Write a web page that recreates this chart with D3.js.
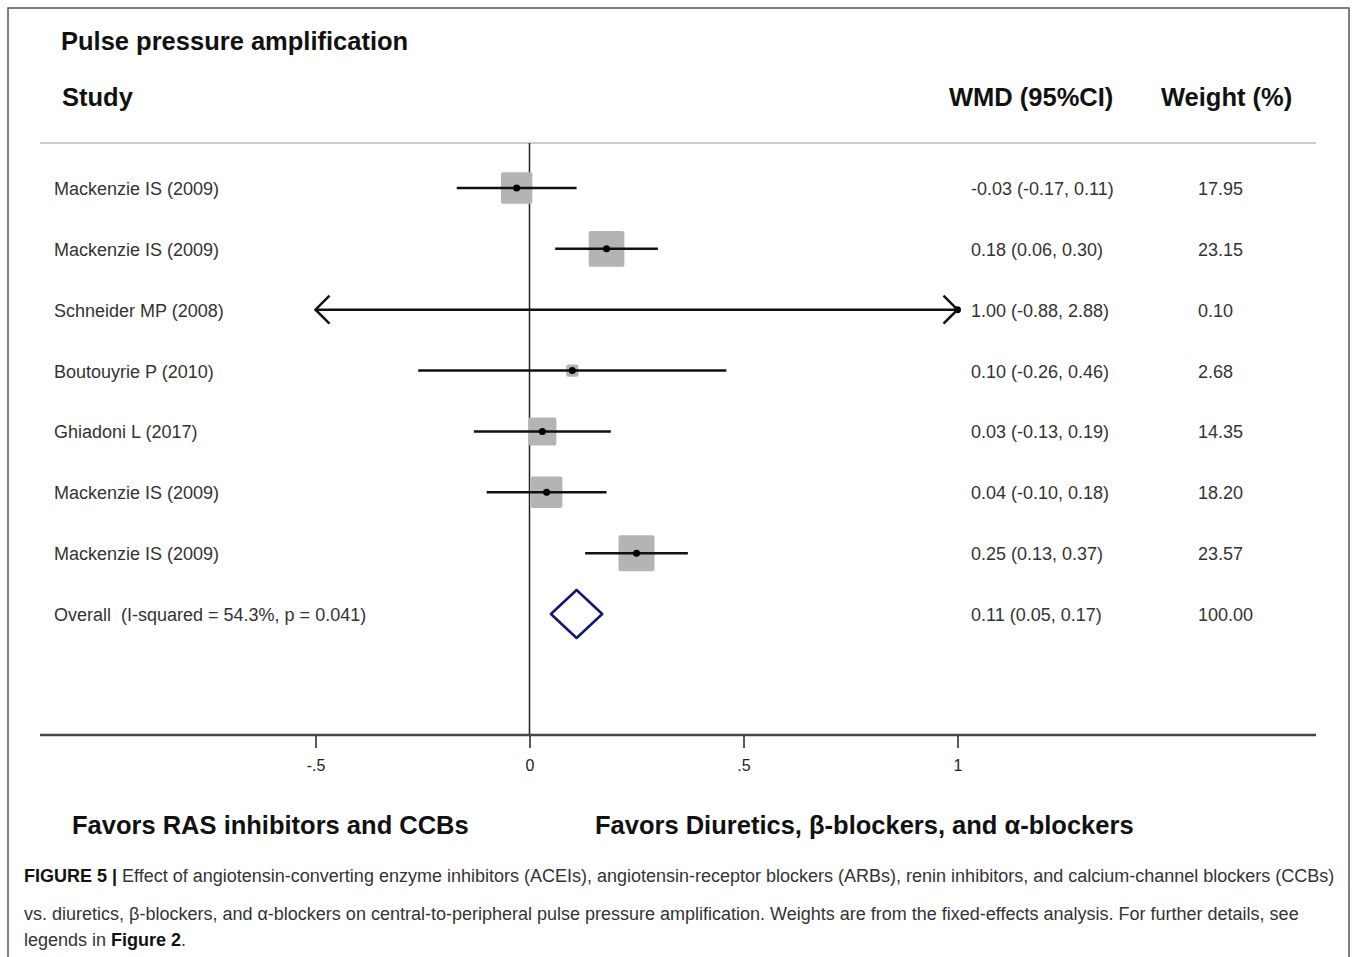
<!DOCTYPE html>
<html>
<head>
<meta charset="utf-8">
<script src="https://cdn.jsdelivr.net/npm/d3@7"></script>
<style>
body { margin: 0; background: #fff; }
svg text { font-family: Arial, "Liberation Sans", Helvetica, sans-serif; white-space: pre; }
</style>
</head>
<body>
<svg width="1357" height="957"></svg>
<script>
// study rows
const studies = ["Mackenzie IS (2009)", "Mackenzie IS (2009)", "Schneider MP (2008)", "Boutouyrie P (2010)",
  "Ghiadoni L (2017)", "Mackenzie IS (2009)", "Mackenzie IS (2009)"]
const est = [-0.03, 0.18, 1.00, 0.10, 0.03, 0.04, 0.25]
const lo = [-0.17, 0.06, -0.88, -0.26, -0.13, -0.10, 0.13]
const hi = [0.11, 0.30, 2.88, 0.46, 0.19, 0.18, 0.37]
const weights = [17.95, 23.15, 0.10, 2.68, 14.35, 18.20, 23.57]
const ciLabels = ["-0.03 (-0.17, 0.11)", "0.18 (0.06, 0.30)", "1.00 (-0.88, 2.88)", "0.10 (-0.26, 0.46)",
  "0.03 (-0.13, 0.19)", "0.04 (-0.10, 0.18)", "0.25 (0.13, 0.37)"]
const weightLabels = ["17.95", "23.15", "0.10", "2.68", "14.35", "18.20", "23.57"]

// overall
const overall = {label: "Overall  (I-squared = 54.3%, p = 0.041)", est: 0.11, lo: 0.05, hi: 0.17,
  ci: "0.11 (0.05, 0.17)", w: "100.00"}

const ticks = [-0.5, 0, 0.5, 1]
const tickLabels = ["-.5", "0", ".5", "1"]
const clip = [-0.5, 1]

const svg = d3.select("svg")

// outer frame
svg.append("rect").attr("x", 8).attr("y", 8).attr("width", 1341).attr("height", 960)
  .attr("fill", "none").attr("stroke", "#555").attr("stroke-width", 1.5)

const x = d3.scaleLinear().domain([0, 1]).range([529.5, 957.5])
const y = d3.scaleLinear().domain([0, 7]).range([188, 614])
const side = d3.scaleSqrt().domain([0, 23.57]).range([0, 36])

// titles
function bold(tx, ty, s) {
  svg.append("text").attr("x", tx).attr("y", ty).attr("font-size", 25.5).attr("font-weight", "bold")
    .attr("fill", "#111").text(s)
}
bold(61, 50, "Pulse pressure amplification")
bold(62, 106, "Study")
bold(949, 106, "WMD (95%CI)")
bold(1161, 106, "Weight (%)")

// header rule
svg.append("line").attr("x1", 40).attr("x2", 1316).attr("y1", 143).attr("y2", 143)
  .attr("stroke", "#ccc").attr("stroke-width", 2)

// null line
svg.append("line").attr("x1", x(0)).attr("x2", x(0)).attr("y1", 143).attr("y2", 735)
  .attr("stroke", "#222").attr("stroke-width", 1.5)

// rows
const rows = svg.append("g").selectAll("g").data(studies).join("g")
  .attr("transform", (d, i) => `translate(0,${y(i)})`)

rows.append("text").attr("x", 54).attr("y", 7).attr("font-size", 18).attr("fill", "#333").text(d => d)
rows.append("text").attr("x", 971).attr("y", 7).attr("font-size", 18).attr("fill", "#333").text((d, i) => ciLabels[i])
rows.append("text").attr("x", 1198).attr("y", 7).attr("font-size", 18).attr("fill", "#333").text((d, i) => weightLabels[i])

rows.append("rect")
  .attr("x", (d, i) => x(est[i]) - side(weights[i]) / 2)
  .attr("y", (d, i) => -side(weights[i]) / 2)
  .attr("width", (d, i) => side(weights[i]))
  .attr("height", (d, i) => side(weights[i]))
  .attr("rx", 2)
  .attr("fill", "#b4b4b4")

rows.append("line")
  .attr("x1", (d, i) => x(Math.max(lo[i], clip[0])))
  .attr("x2", (d, i) => x(Math.min(hi[i], clip[1])))
  .attr("stroke", "#111").attr("stroke-width", 2.5)

rows.append("circle").attr("cx", (d, i) => x(est[i])).attr("r", 3.5).attr("fill", "#000")

// arrow heads for clipped CIs
rows.each(function (d, i) {
  const g = d3.select(this)
  if (lo[i] < clip[0]) {
    const a = x(clip[0])
    g.append("path").attr("d", `M${a + 14},-14 L${a},0 L${a + 14},14`)
      .attr("fill", "none").attr("stroke", "#111").attr("stroke-width", 2.5)
  }
  if (hi[i] > clip[1]) {
    const a = x(clip[1])
    g.append("path").attr("d", `M${a - 14},-14 L${a},0 L${a - 14},14`)
      .attr("fill", "none").attr("stroke", "#111").attr("stroke-width", 2.5)
  }
})

// overall row
const oy = y(7)
svg.append("text").attr("x", 54).attr("y", oy + 7).attr("font-size", 18).attr("fill", "#333").text(overall.label)
svg.append("text").attr("x", 971).attr("y", oy + 7).attr("font-size", 18).attr("fill", "#333").text(overall.ci)
svg.append("text").attr("x", 1198).attr("y", oy + 7).attr("font-size", 18).attr("fill", "#333").text(overall.w)
svg.append("path")
  .attr("d", `M${x(overall.lo)},${oy} L${x(overall.est)},${oy - 24} L${x(overall.hi)},${oy} L${x(overall.est)},${oy + 24} Z`)
  .attr("fill", "none").attr("stroke", "#141478").attr("stroke-width", 2.5).attr("stroke-linejoin", "round")

// axis
svg.append("line").attr("x1", 40).attr("x2", 1316).attr("y1", 735).attr("y2", 735)
  .attr("stroke", "#444").attr("stroke-width", 2.5)
const axis = d3.axisBottom(x).tickValues(ticks).tickSize(12).tickPadding(12)
  .tickFormat((d, i) => tickLabels[i])
const ax = svg.append("g").attr("transform", "translate(0,736)").call(axis)
ax.select(".domain").remove()
ax.selectAll(".tick line").attr("stroke", "#222").attr("stroke-width", 1.5)
ax.selectAll(".tick text").attr("font-size", 16).attr("fill", "#222")
  .style("font-family", "Arial, 'Liberation Sans', sans-serif")

// favors labels
bold(72, 834, "Favors RAS inhibitors and CCBs")
bold(595, 834, "Favors Diuretics, β-blockers, and α-blockers")

// caption
const cap = svg.append("g").attr("font-size", 18).attr("fill", "#333")
const l1 = cap.append("text").attr("x", 24).attr("y", 882)
l1.append("tspan").attr("font-weight", "bold").attr("fill", "#111").text("FIGURE 5 | ")
l1.append("tspan").text("Effect of angiotensin-converting enzyme inhibitors (ACEIs), angiotensin-receptor blockers (ARBs), renin inhibitors, and calcium-channel blockers (CCBs)")
cap.append("text").attr("x", 24).attr("y", 920)
  .text("vs. diuretics, β-blockers, and α-blockers on central-to-peripheral pulse pressure amplification. Weights are from the fixed-effects analysis. For further details, see")
const l3 = cap.append("text").attr("x", 24).attr("y", 946)
l3.append("tspan").text("legends in ")
l3.append("tspan").attr("font-weight", "bold").attr("fill", "#111").text("Figure 2")
l3.append("tspan").text(".")
</script>
</body>
</html>
